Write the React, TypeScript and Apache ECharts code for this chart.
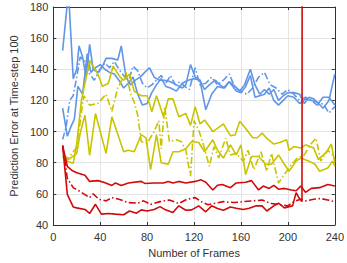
import React, { useEffect, useRef } from "react";
import * as echarts from "echarts";

const xTicks = [0, 40, 80, 120, 160, 200, 240];
const yTicks = [40, 60, 80, 100, 120, 140, 160, 180];

const redTopX = [8, 12, 16, 20, 27, 31, 38, 43, 50, 53, 58, 64, 75, 78, 86, 94, 98, 102, 107, 113, 121, 126, 130, 136, 140, 144, 151, 156, 164, 169, 175, 179, 184, 188, 192, 197, 203, 207, 211, 215, 220, 227, 234, 240];
const redTopY = [91, 77.7, 75, 73.5, 72, 68, 68.5, 67.5, 65.4, 67, 65.4, 67, 68, 66.7, 67, 67, 68, 67, 68, 67, 68, 69, 67.5, 62.5, 65.5, 66, 64, 67, 67.5, 68.5, 62.5, 65, 63.5, 65.5, 63, 63.5, 62.5, 62, 65, 61, 63.5, 64, 66, 65];

const redDashX = [8, 12, 17, 24, 31, 34, 39, 45, 50, 56, 64, 72, 77, 83, 91, 99, 107, 114, 121, 126, 132, 137, 145, 154, 162, 170, 178, 186, 194, 200, 205, 211, 215, 222, 228, 234, 240];
const redDashY = [91, 70, 64, 61, 57.6, 60, 56.5, 55.5, 57.6, 56.5, 54.4, 54, 55.5, 53.3, 55, 56, 53.8, 56.5, 57.6, 55, 53, 53.8, 55, 54.4, 55, 55.5, 56, 53.8, 53, 52.3, 55, 56.5, 55.5, 56.5, 57, 56, 55];

const redLowX = [8, 12, 17, 20, 27, 31, 36, 41, 47, 53, 60, 65, 71, 75, 80, 86, 91, 95, 102, 107, 113, 118, 124, 130, 135, 140, 145, 151, 156, 162, 167, 173, 178, 182, 188, 192, 197, 201, 204, 207, 209, 212, 213];
const redLowY = [91, 59.7, 51.6, 51, 50, 47.4, 53.3, 47, 47.4, 47, 46.6, 49, 47.6, 49.7, 49, 50, 51.8, 50, 48, 52.3, 49.5, 49.7, 52.3, 48.5, 52.3, 50.6, 49.5, 51.6, 50.8, 50, 50.8, 52.3, 52.3, 49, 52.3, 54, 51, 51.8, 52.3, 60.8, 58, 55, 1000];

const yelAX = [8, 12, 17, 20, 24, 31, 38, 42, 47, 51, 57, 60, 65, 69, 75, 80, 84, 88, 94, 98, 102, 107, 113, 117, 121, 125, 129, 136, 140, 145, 151, 155, 159, 163, 170, 174, 178, 182, 188, 193, 199, 201, 205, 211, 215, 222, 226, 233, 237, 240];
const yelAY = [84, 81, 79.6, 92, 120, 145.5, 137, 129, 131, 142, 135, 133, 137, 126, 123, 123, 112.7, 123, 109.5, 121, 121, 109.5, 111.6, 104, 116, 105, 107.4, 100, 102, 105, 97.4, 97.8, 106.7, 103, 96, 96, 99, 95.7, 92, 93, 94.7, 88, 90.4, 89.4, 91.5, 89.4, 82, 87, 92, 80];

const yelBX = [8, 13, 20, 23, 27, 31, 36, 45, 50, 60, 64, 69, 75, 79, 83, 88, 92, 98, 102, 107, 113, 118, 124, 129, 136, 140, 145, 151, 156, 160, 164, 169, 175, 181, 186, 192, 197, 201, 207, 211, 218, 223, 227, 234, 238, 240];
const yelBY = [84, 82, 86, 99, 110.5, 84.7, 111.6, 86, 109.5, 87, 88, 87, 98, 96, 75.6, 98, 80, 79, 87, 87, 89, 93.6, 93, 87, 94.7, 88, 83, 91.5, 85, 91.5, 72.4, 84, 84, 79, 79, 85, 79, 74.5, 81, 83, 81, 79, 74.5, 76.6, 81, 77.7];

const yelCX = [8, 13, 20, 26, 31, 38, 45, 50, 55, 62, 66, 69, 72, 75, 80, 86, 90, 92, 95, 99, 105, 109, 113, 117, 120, 124, 129, 133, 137, 141, 147, 151, 156, 162, 166, 171, 177, 182, 186, 192, 197, 203, 208, 214, 219, 224, 228, 234, 238, 240];
const yelCY = [84, 83, 90, 123, 117, 118, 124, 113, 128, 138, 124, 119, 110.5, 93.6, 92.5, 100, 107, 89, 116, 93.6, 94.7, 93.6, 88, 71.4, 107, 101, 89, 77.7, 90.4, 83, 95.7, 85, 86, 81, 88, 75.6, 87, 74.5, 86, 67, 72.4, 78.8, 83, 85, 91.5, 95.7, 81, 88, 85, 82];

const bluAX = [8, 13, 17, 20, 22, 25, 28, 31, 34, 38, 42, 45, 50, 55, 58, 62, 66, 70, 74, 78, 82, 86, 90, 95, 100, 105, 110, 113, 117, 121, 125, 129, 133, 138, 142, 146, 150, 155, 159, 163, 168, 172, 176, 180, 184, 188, 192, 196, 200, 205, 210, 214, 218, 222, 226, 230, 235, 240];
const bluAY = [152, 190, 134, 140, 155, 148, 135, 156, 140, 138, 142, 147, 147, 146, 155, 135, 130, 133, 135, 138, 141, 135, 133, 133, 132, 130, 128, 130, 143, 135, 133, 127, 130, 133, 130, 128, 132, 129, 126, 130, 140, 130, 124, 127, 124, 127, 120, 123, 125, 125, 124, 118, 122, 121, 118, 122, 122, 117];

const bluBX = [8, 12, 15, 18, 21, 25, 29, 32, 36, 40, 44, 48, 52, 56, 60, 64, 68, 72, 76, 80, 84, 88, 92, 96, 100, 105, 110, 115, 120, 125, 130, 135, 140, 145, 150, 156, 160, 164, 168, 172, 176, 180, 184, 188, 192, 196, 200, 205, 210, 215, 220, 225, 230, 235, 240];
const bluBY = [115, 97, 103, 108, 129, 124, 150, 138, 141, 143, 140, 138, 137, 133, 128, 131, 135, 124, 117, 118, 125, 130, 134, 129, 128, 126, 131, 133, 134, 133, 114, 124, 129, 128, 132, 126, 125, 129, 136, 122, 123, 124, 128, 120, 117, 120, 123, 122, 118, 121, 120, 119, 115, 120, 137];

const bluCX = [8, 11, 14, 17, 20, 23, 27, 31, 35, 40, 44, 48, 52, 56, 60, 64, 68, 72, 76, 80, 84, 88, 92, 96, 100, 104, 108, 112, 116, 121, 125, 130, 135, 140, 145, 150, 155, 160, 165, 170, 175, 180, 185, 190, 195, 200, 205, 210, 215, 220, 225, 230, 235, 240];
const bluCY = [95, 103, 120, 123, 135, 148, 145, 137, 133, 140, 144, 141, 145, 140, 136, 132, 142, 139, 131, 128, 130, 133, 136, 131, 136, 130, 132, 129, 127, 141, 130, 131, 135, 130, 133, 137, 128, 126, 124, 128, 135, 138, 130, 128, 124, 127, 124, 120, 122, 120, 117, 118, 112, 116];

const BLUE = "#5f96e8";
const YEL = "#c8c400";
const RED = "#d00a0a";
const DASHDOT = [7, 2.5, 1.5, 2.5];

function pairs(xs: number[], ys: number[]) {
  return xs.map((x, i) => [x, ys[i]]);
}

function mk(name: string, xs: number[], ys: number[], color: string, dash: boolean) {
  return {
    name,
    type: "line",
    data: pairs(xs, ys),
    showSymbol: false,
    symbol: "none",
    clip: true,
    lineStyle: { color, width: 1.6, type: dash ? DASHDOT : "solid" },
    z: 3,
  };
}

export default function App() {
  const ref = useRef<HTMLDivElement>(null);
  useEffect(() => {
    if (!ref.current) return;
    const chart = echarts.init(ref.current, undefined, { renderer: "svg" });
    const axisLabel = { color: "#333", fontSize: 11, fontFamily: "Liberation Sans, Arial, sans-serif" };
    chart.setOption({
      animation: false,
      backgroundColor: "#fff",
      grid: { left: 42, right: 11, top: 7, bottom: 35, containLabel: false },
      xAxis: [
        {
          type: "value",
          min: 0,
          max: 240,
          interval: 40,
          name: "Number of Frames",
          nameLocation: "middle",
          nameGap: 22,
          nameTextStyle: { color: "#333", fontSize: 11, fontFamily: "Liberation Sans, Arial, sans-serif" },
          axisLine: { show: true, onZero: false, lineStyle: { color: "#333", width: 1 } },
          axisTick: { show: true, inside: true, length: 3, lineStyle: { color: "#333" } },
          axisLabel: { ...axisLabel, margin: 6 },
          splitLine: { show: true, lineStyle: { color: "#e4e4e4", width: 1 } },
        },
        {
          type: "value",
          position: "top",
          min: 0,
          max: 240,
          interval: 40,
          axisLine: { show: true, onZero: false, lineStyle: { color: "#333", width: 1 } },
          axisTick: { show: true, inside: true, length: 3, lineStyle: { color: "#333" } },
          axisLabel: { show: false },
          splitLine: { show: false },
        },
      ],
      yAxis: [
        {
          type: "value",
          min: 40,
          max: 180,
          interval: 20,
          name: "Prediction Error at Time-step 100",
          nameLocation: "middle",
          nameGap: 29,
          nameTextStyle: { color: "#333", fontSize: 11, fontFamily: "Liberation Sans, Arial, sans-serif" },
          axisLine: { show: true, onZero: false, lineStyle: { color: "#333", width: 1 } },
          axisTick: { show: true, inside: true, length: 3, lineStyle: { color: "#333" } },
          axisLabel: { ...axisLabel, margin: 5 },
          splitLine: { show: true, lineStyle: { color: "#e4e4e4", width: 1 } },
        },
        {
          type: "value",
          position: "right",
          min: 40,
          max: 180,
          interval: 20,
          axisLine: { show: true, onZero: false, lineStyle: { color: "#333", width: 1 } },
          axisTick: { show: true, inside: true, length: 3, lineStyle: { color: "#333" } },
          axisLabel: { show: false },
          splitLine: { show: false },
        },
      ],
      series: [
        mk("blue A", bluAX, bluAY, BLUE, false),
        mk("blue B", bluBX, bluBY, BLUE, false),
        mk("blue C", bluCX, bluCY, BLUE, true),
        mk("yellow A", yelAX, yelAY, YEL, false),
        mk("yellow B", yelBX, yelBY, YEL, false),
        mk("yellow C", yelCX, yelCY, YEL, true),
        mk("red top", redTopX, redTopY, RED, false),
        mk("red dash", redDashX, redDashY, RED, true),
        mk("red low", redLowX, redLowY, RED, false),
      ],
    });
    void xTicks;
    void yTicks;
    return () => chart.dispose();
  }, []);
  return <div ref={ref} style={{ width: 347, height: 263, position: "absolute", left: 0, top: 0 }} />;
}
